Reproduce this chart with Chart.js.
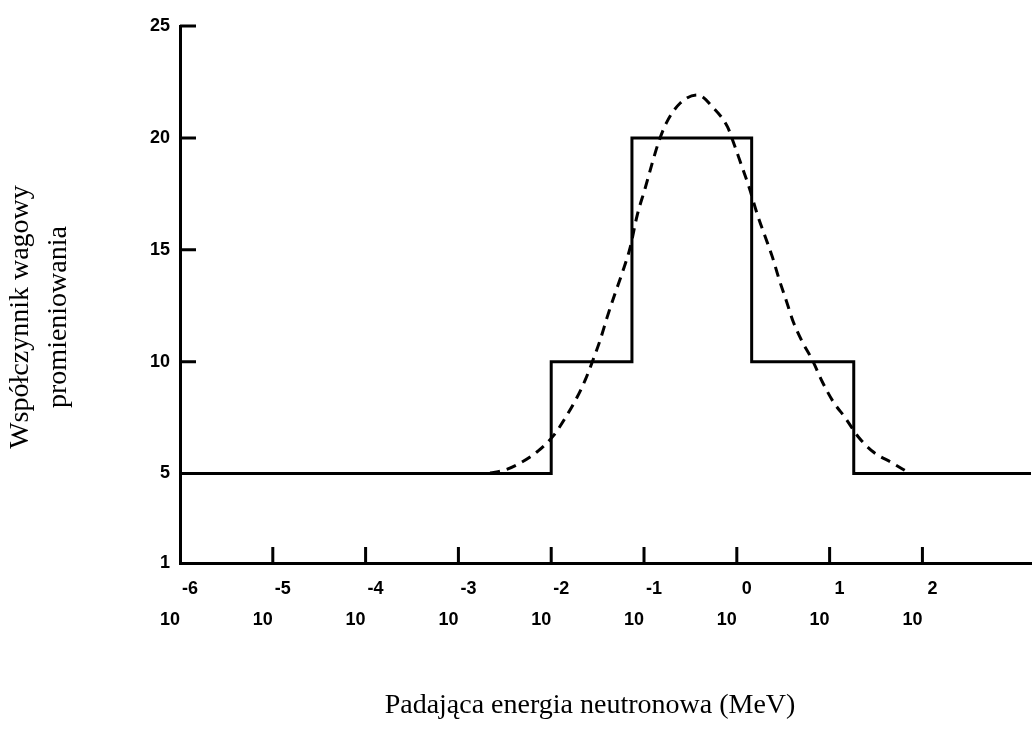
<!DOCTYPE html>
<html>
<head>
<meta charset="utf-8">
<script src="https://cdn.jsdelivr.net/npm/chart.js@4"></script>
<style>
    body { margin: 0; background: #fff; }
    #wrap { width: 1034px; height: 742px; position: relative; }
</style>
</head>
<body>
<div id="wrap"><canvas id="wykres"></canvas></div>
<script>
// log10 energii (MeV) dla podziałki osi X
const logE = [-6, -5, -4, -3, -2, -1, 0, 1, 2];
const expLabels = ["-6", "-5", "-4", "-3", "-2", "-1", "0", "1", "2"];
const yTicks = [1, 5, 10, 15, 20, 25];

// funkcja schodkowa
const stepE = [-6, -2, -2, -1.13, -1.13, 0.16, 0.16, 1.26, 1.26, 3.17];
const stepW = [5, 5, 10, 10, 20, 20, 10, 10, 5, 5];

// krzywa ciągła (przerywana)
const dashE = [-2.658, -2.496, -2.334, -2.14, -1.978, -1.849, -1.72, -1.633, -1.558, -1.472, -1.396,
    -1.31, -1.235, -1.148, -1.073, -0.987, -0.911, -0.846, -0.76, -0.609, -0.426, -0.253, -0.10,
    -0.038, 0.038, 0.135, 0.221, 0.307, 0.383, 0.458, 0.534, 0.609, 0.706, 0.814, 0.922, 1.04,
    1.17, 1.31, 1.472, 1.677, 1.838];
const dashW = [5.02, 5.16, 5.47, 6.01, 6.68, 7.48, 8.42, 9.18, 9.98, 10.97, 12.0,
    13.07, 13.96, 15.12, 16.55, 17.76, 18.88, 19.77, 20.66, 21.56, 21.92, 21.34, 20.49,
    19.82, 18.92, 17.76, 16.58, 15.57, 14.68, 13.65, 12.71, 11.77, 10.88, 10.07, 9.09, 8.2,
    7.48, 6.63, 5.96, 5.47, 5.07];

const yTitle = ["Współczynnik wagowy", "promieniowania"];
const xTitle = "Padająca energia neutronowa (MeV)";

const extras = {
    id: "extras",
    afterDraw(chart) {
        const { ctx, chartArea } = chart;
        const x = chart.scales.x;
        const y = chart.scales.y;
        ctx.save();
        ctx.strokeStyle = "#000";
        ctx.lineWidth = 3;
        ctx.beginPath();
        logE.slice(1).forEach(v => {
            const px = x.getPixelForValue(v);
            ctx.moveTo(px, chartArea.bottom);
            ctx.lineTo(px, chartArea.bottom - 16);
        });
        [10, 15, 20, 25].forEach(v => {
            const py = y.getPixelForValue(v);
            ctx.moveTo(chartArea.left, py);
            ctx.lineTo(chartArea.left + 16, py);
        });
        ctx.stroke();

        ctx.fillStyle = "#000";
        ctx.font = '28px "Liberation Serif"';
        ctx.textAlign = "center";
        ctx.textBaseline = "alphabetic";
        ctx.fillText(xTitle, 590, 713);
        ctx.translate(0, 317);
        ctx.rotate(-Math.PI / 2);
        ctx.fillText(yTitle[0], 0, 28);
        ctx.fillText(yTitle[1], 0, 66);
        ctx.restore();
    }
};

const ctx = document.getElementById("wykres");

new Chart(ctx, {
    type: "scatter",
    data: {
        datasets: [
            {
                label: "schodkowa",
                data: stepE.map((e, i) => ({ x: e, y: stepW[i] })),
                showLine: true,
                borderColor: "#000",
                borderWidth: 3,
                pointRadius: 0,
                tension: 0,
                borderJoinStyle: "miter"
            },
            {
                label: "ciągła",
                data: dashE.map((e, i) => ({ x: e, y: dashW[i] })),
                showLine: true,
                borderColor: "#000",
                borderWidth: 3,
                borderDash: [10, 7],
                pointRadius: 0,
                cubicInterpolationMode: "monotone"
            }
        ]
    },
    options: {
        responsive: true,
        maintainAspectRatio: false,
        animation: false,
        layout: { padding: { top: 26, right: 3, left: 0, bottom: 0 } },
        plugins: {
            legend: { display: false },
            tooltip: { enabled: false }
        },
        scales: {
            x: {
                type: "linear",
                min: -6,
                max: 3.17,
                afterBuildTicks: s => { s.ticks = logE.map(v => ({ value: v })); },
                afterFit: s => { s.height = 179; },
                grid: { display: false, drawTicks: false },
                border: { display: true, color: "#000", width: 3 },
                ticks: {
                    padding: 10,
                    autoSkip: false,
                    maxRotation: 0,
                    color: "#000",
                    font: { family: "Liberation Sans", size: 18, weight: "bold", lineHeight: 1.75 },
                    callback: (v, i) => ["    " + expLabels[i], "10    "]
                }
            },
            y: {
                min: 1,
                max: 25,
                afterBuildTicks: s => { s.ticks = yTicks.map(v => ({ value: v })); },
                afterFit: s => { s.width = 180; },
                grid: { display: false, drawTicks: false },
                border: { display: true, color: "#000", width: 3 },
                ticks: {
                    padding: 10,
                    color: "#000",
                    font: { family: "Liberation Sans", size: 18, weight: "bold" }
                }
            }
        }
    },
    plugins: [extras]
});
</script>
</body>
</html>
